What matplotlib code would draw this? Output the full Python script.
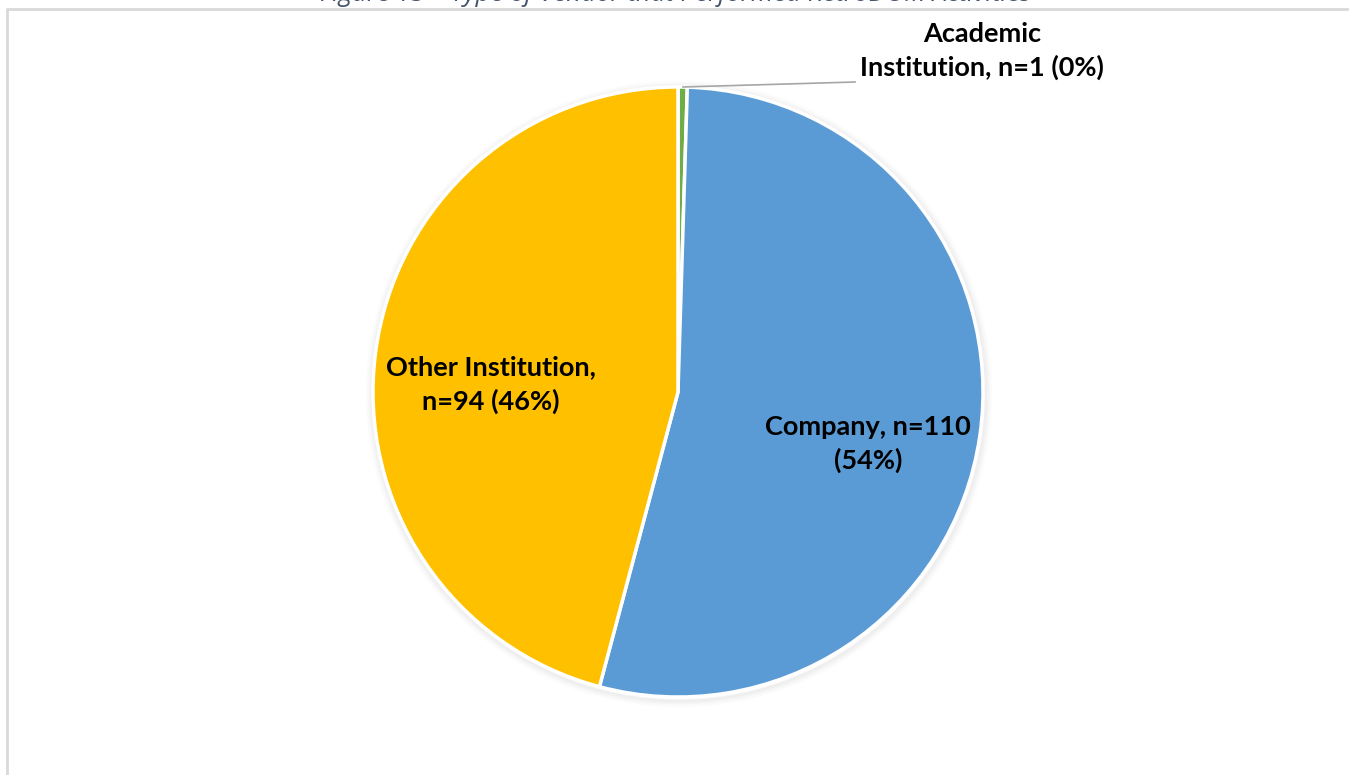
import matplotlib
matplotlib.use("Agg")
import matplotlib.pyplot as plt
from matplotlib.patches import Circle

# Vendor types and counts
categories = ["Academic Institution", "Company", "Other Institution"]
counts = [1, 110, 94]
label_texts = ["Academic\nInstitution, n=1 (0%)",
               "Company, n=110\n(54%)",
               "Other Institution,\nn=94 (46%)"]
colors = ["#70AD47", "#5B9BD5", "#FFC000"]

W, H = 1349, 775
fig = plt.figure(figsize=(W / 100, H / 100), dpi=100)
ax = fig.add_axes([0, 0, 1, 1])

cx, cy, r = 678, H - 392, 305

# soft outer shadow
for k in range(8):
    ax.add_patch(Circle((cx + 1, cy - 2), r + 1 + k, facecolor="none",
                        edgecolor="black", lw=1.5, alpha=0.035 * (8 - k) / 8,
                        zorder=0))

wedges, _ = ax.pie(counts, colors=colors, startangle=90, counterclock=False,
                   center=(cx, cy), radius=r,
                   wedgeprops=dict(edgecolor="white", linewidth=2.5))
for w in wedges:
    w.set_zorder(2)

ax.set_xlim(0, W)
ax.set_ylim(0, H)
ax.set_aspect("auto")
ax.axis("off")

font = dict(family=["Lato", "DejaVu Sans"], fontweight="bold",
            fontsize=19.5, color="black", linespacing=1.45)

ax.text(491, H - 385, label_texts[2], ha="center", va="center", **font)
ax.text(868, H - 444, label_texts[1], ha="center", va="center", **font)
ax.text(982, H - 51, label_texts[0], ha="center", va="center", **font)

# leader line for the small slice
ax.plot([683, 855], [H - 87, H - 82], color="#A6A6A6", lw=1.2, zorder=3)

# chart area border (top and left edges visible)
ax.plot([6, W], [H - 8.5, H - 8.5], color="#D9D9D9", lw=2, zorder=1,
        solid_capstyle="butt")
ax.plot([6.5, 6.5], [0, H - 8.5], color="#D9D9D9", lw=2, zorder=1,
        solid_capstyle="butt")

# figure caption above the chart
ax.text(676, H - 1, "Figure 13 \u2013 Type of Vendor that Performed RetroDOM Activities",
        ha="center", va="baseline", fontsize=18.5, style="italic",
        family=["Open Sans", "DejaVu Sans"], color="#44546A")

fig.savefig("out.png", dpi=100)
